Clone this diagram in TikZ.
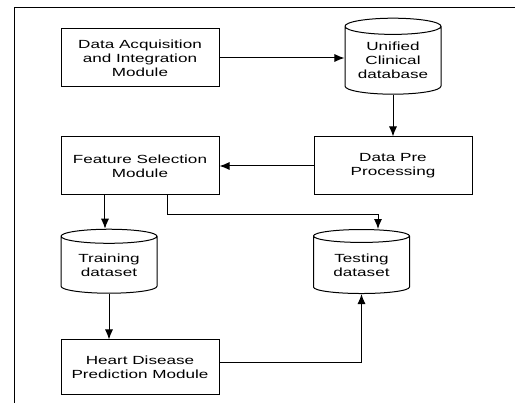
\documentclass[tikz,border=0pt]{standalone}
\usepackage{fontspec}
\setmainfont{Liberation Sans}[FakeStretch=1.45]
\usetikzlibrary{shapes.geometric,arrows.meta}
\begin{document}
\begin{tikzpicture}[
        x = 1pt, y = -1pt,
        line width = 1pt,
        font = \fontsize{11.8}{14}\selectfont,
        block/.style = {draw, rectangle, minimum width = 158pt, minimum height = 58pt, align = center, inner sep = 2pt},
        dbase/.style = {draw, cylinder, shape border rotate = 90, aspect = .23, minimum width = 96pt, align = center, inner sep = 0pt},
        link/.style = {-{Latex[length = 10pt, width = 8pt]}}
    ]
        \useasboundingbox (0, 0) rectangle (515, 403);
        \draw (515, 8) -- (14, 8) -- (14, 403);
        % modules
        \node[block] (acq) at (140, 58) {Data Acquisition\\and Integration\\Module};
        \node[block] (pre) at (393, 166) {Data Pre\\Processing};
        \node[block] (feat) at (140, 166) {Feature Selection\\Module};
        \node[block, minimum height = 55pt] (pred) at (140, 367.5) {Heart Disease\\Prediction Module};
        % data stores
        \node[dbase, minimum height = 76pt] (db) at (393, 60.5) {Unified\\Clinical\\database};
        \node[dbase, minimum height = 64pt] (train) at (109, 265) {Training\\dataset};
        \node[dbase, minimum height = 64pt] (test) at (361.5, 265) {Testing\\dataset};
        % connectors
        \draw[link] (acq.east) -- (acq.east -| db.west);
        \draw[link] (db.south) -- (pre.north);
        \draw[link] (pre.west) -- (feat.east);
        \draw[link] ([xshift = -4pt]train.north |- feat.south) -- ([xshift = -4pt]train.north);
        \draw[link] ([xshift = 27pt]feat.south) -- ++(0, 19) -| ([xshift = 16.5pt]test.north);
        \draw[link] (train.south) -- (train.south |- pred.north);
        \draw[link] ([yshift = 4.5pt]pred.east) -| (test.south);
\end{tikzpicture}
\end{document}
